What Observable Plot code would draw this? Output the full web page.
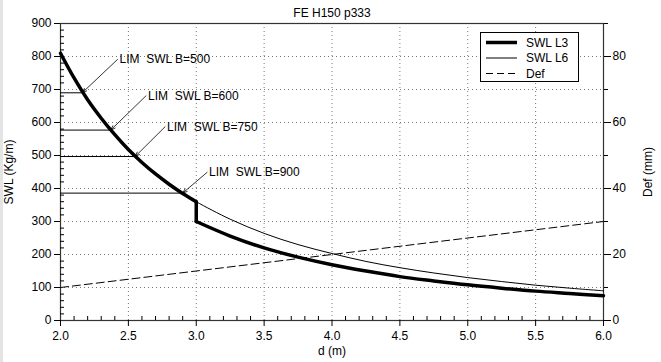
<!DOCTYPE html>
<html>
<head>
<meta charset="utf-8">
<script src="https://cdn.jsdelivr.net/npm/d3@7"></script>
<script src="https://cdn.jsdelivr.net/npm/@observablehq/plot@0.6"></script>
<style>
  body { margin: 0; background: #fff; font-family: "Liberation Sans", Arial, sans-serif; }
  #wrap { position: relative; width: 661px; height: 362px; overflow: hidden; }
  #strip { position: absolute; left: 0; top: 0; width: 3px; height: 362px; background: #e4e4e4; }
  #legend { position: absolute; left: 480px; top: 32px; width: 97px; height: 48px; border: 1px solid #000; background: #fff; }
  svg text { white-space: pre; }
</style>
</head>
<body>
<div id="wrap"><div id="strip"></div><div id="chart"></div><div id="legend"></div></div>
<script>
// ---- data ----
const title = "FE H150 p333";
const dA = [2.0, 2.1, 2.2, 2.3, 2.4, 2.5, 2.6, 2.7, 2.8, 2.9, 3.0];
const swlA = [810, 735, 669, 613, 563, 518, 479, 444, 413, 385, 360];   // shared by L3 and L6 up to d=3.0
const dB = [3.0, 3.25, 3.5, 3.75, 4.0, 4.25, 4.5, 4.75, 5.0, 5.25, 5.5, 5.75, 6.0];
const swlL3B = [300, 256, 220, 192, 169, 150, 133, 120, 108, 98, 89, 82, 75];
const swlL6B = [360, 307, 264, 230, 203, 179, 160, 144, 130, 118, 107, 98, 90];
const defD = [2.0, 6.0];
const defMM = [10, 30];

const limLabels = ["LIM  SWL B=500", "LIM  SWL B=600", "LIM  SWL B=750", "LIM  SWL B=900"];
const limSWL = [690, 577, 497, 386];
const limD = [2.16, 2.37, 2.55, 2.90];
const limTailD = [2.42, 2.63, 2.77, 3.08];
const limTailSWL = [791, 681, 587, 449];

const xTicks = [2.0, 2.5, 3.0, 3.5, 4.0, 4.5, 5.0, 5.5, 6.0];
const yTicks = [0, 100, 200, 300, 400, 500, 600, 700, 800, 900];
const defTicks = [0, 20, 40, 60, 80];
const defMinorTicks = [10, 30, 50, 70, 90];
const legendNames = ["SWL L3", "SWL L6", "Def"];

// ---- tables ----
const l3 = [
  ...dA.map((d, i) => ({d, v: swlA[i], seg: "a"})),
  {d: dA[dA.length - 1], v: swlA[swlA.length - 1], seg: "j"},
  {d: dB[0], v: swlL3B[0], seg: "j"},
  ...dB.map((d, i) => ({d, v: swlL3B[i], seg: "b"}))
];
const l6 = [
  ...dA.map((d, i) => ({d, v: swlA[i]})),
  ...dB.slice(1).map((d, i) => ({d, v: swlL6B[i + 1]}))
];
const def = defD.map((d, i) => ({d, mm: defMM[i]}));
const lim = limLabels.map((label, i) => ({label, v: limSWL[i], dHead: limD[i], dTail: limTailD[i], vTail: limTailSWL[i]}));

const xMinor = d3.range(20, 61).map(k => k / 10).filter(t => Math.abs(t * 2 - Math.round(t * 2)) > 1e-9);
const yMinor = d3.range(0, 901, 20).filter(t => t % 100 !== 0);

const grid = {stroke: "#777", strokeOpacity: 1, strokeDasharray: "1,3", strokeWidth: 1};

const chart = Plot.plot({
  width: 661,
  height: 362,
  marginLeft: 60,
  marginRight: 58,
  marginTop: 23,
  marginBottom: 42,
  style: {fontFamily: "'Liberation Sans', Arial, sans-serif", fontSize: "12px", background: "transparent", color: "#000", overflow: "visible"},
  x: {domain: [2, 6]},
  y: {domain: [0, 900]},
  marks: [
    Plot.gridY(yTicks.slice(1, -1), grid),
    Plot.gridX(xTicks.slice(1, -1), grid),
    Plot.frame({stroke: "#333", strokeWidth: 1.2}),
    Plot.axisY({anchor: "left", ticks: yTicks, tickSize: 6, tickPadding: 3, label: "SWL (Kg/m)", labelAnchor: "center", labelArrow: "none", labelOffset: 56}),
    Plot.axisY({anchor: "left", ticks: yMinor, tickSize: -4, tickFormat: () => "", label: null}),
    Plot.axisX({anchor: "bottom", ticks: xTicks, tickSize: 6, tickPadding: 5, tickFormat: d3.format(".1f"), label: "d (m)", labelAnchor: "center", labelArrow: "none", labelOffset: 34}),
    Plot.axisX({anchor: "bottom", ticks: xMinor, tickSize: -4, tickFormat: () => "", label: null}),
    Plot.axisY({anchor: "right", ticks: defTicks.map(t => t * 10), tickSize: 7, tickPadding: 2, tickFormat: t => t / 10, label: "Def (mm)", labelAnchor: "center", labelArrow: "none", labelOffset: 48}),
    Plot.axisY({anchor: "right", ticks: defMinorTicks.map(t => t * 10), tickSize: 4, tickFormat: () => "", label: null}),
    Plot.line(def, {x: "d", y: r => r.mm * 10, stroke: "#000", strokeWidth: 1, strokeDasharray: "8,4"}),
    Plot.line(l6, {x: "d", y: "v", stroke: "#000", strokeWidth: 1, curve: "catmull-rom"}),
    Plot.line(l3, {x: "d", y: "v", z: "seg", stroke: "#000", strokeWidth: 3.5, curve: "catmull-rom"}),
    Plot.ruleY(lim, {y: "v", x1: () => dA[0], x2: "dHead", stroke: "#000", strokeWidth: 1}),
    Plot.arrow(lim, {x1: "dTail", y1: "vTail", x2: "dHead", y2: "v", stroke: "#000", strokeWidth: 0.8, headLength: 9, headAngle: 40}),
    Plot.text(lim, {x: "dTail", y: "vTail", text: "label", textAnchor: "start", dx: 2, fontSize: 12, fill: "#000"}),
    Plot.text([title], {frameAnchor: "top", lineAnchor: "middle", dy: -10, fontSize: 12, fill: "#000"})
  ]
});
document.getElementById("chart").appendChild(chart);

// ---- legend ----
const legendStyles = [
  {w: 3.5, dash: null},
  {w: 1, dash: null},
  {w: 1, dash: "7,4"}
];
const leg = d3.select("#legend").append("svg").attr("width", 97).attr("height", 48)
  .style("font-family", "'Liberation Sans', Arial, sans-serif").style("font-size", "12px");
legendNames.forEach((name, i) => {
  const y = 9.5 + i * 15.5;
  leg.append("line").attr("x1", 5).attr("x2", 36).attr("y1", y).attr("y2", y)
    .attr("stroke", "#000").attr("stroke-width", legendStyles[i].w)
    .attr("stroke-dasharray", legendStyles[i].dash);
  leg.append("text").attr("x", 45).attr("y", y).attr("dy", "0.35em").attr("fill", "#000").text(name);
});
</script>
</body>
</html>
